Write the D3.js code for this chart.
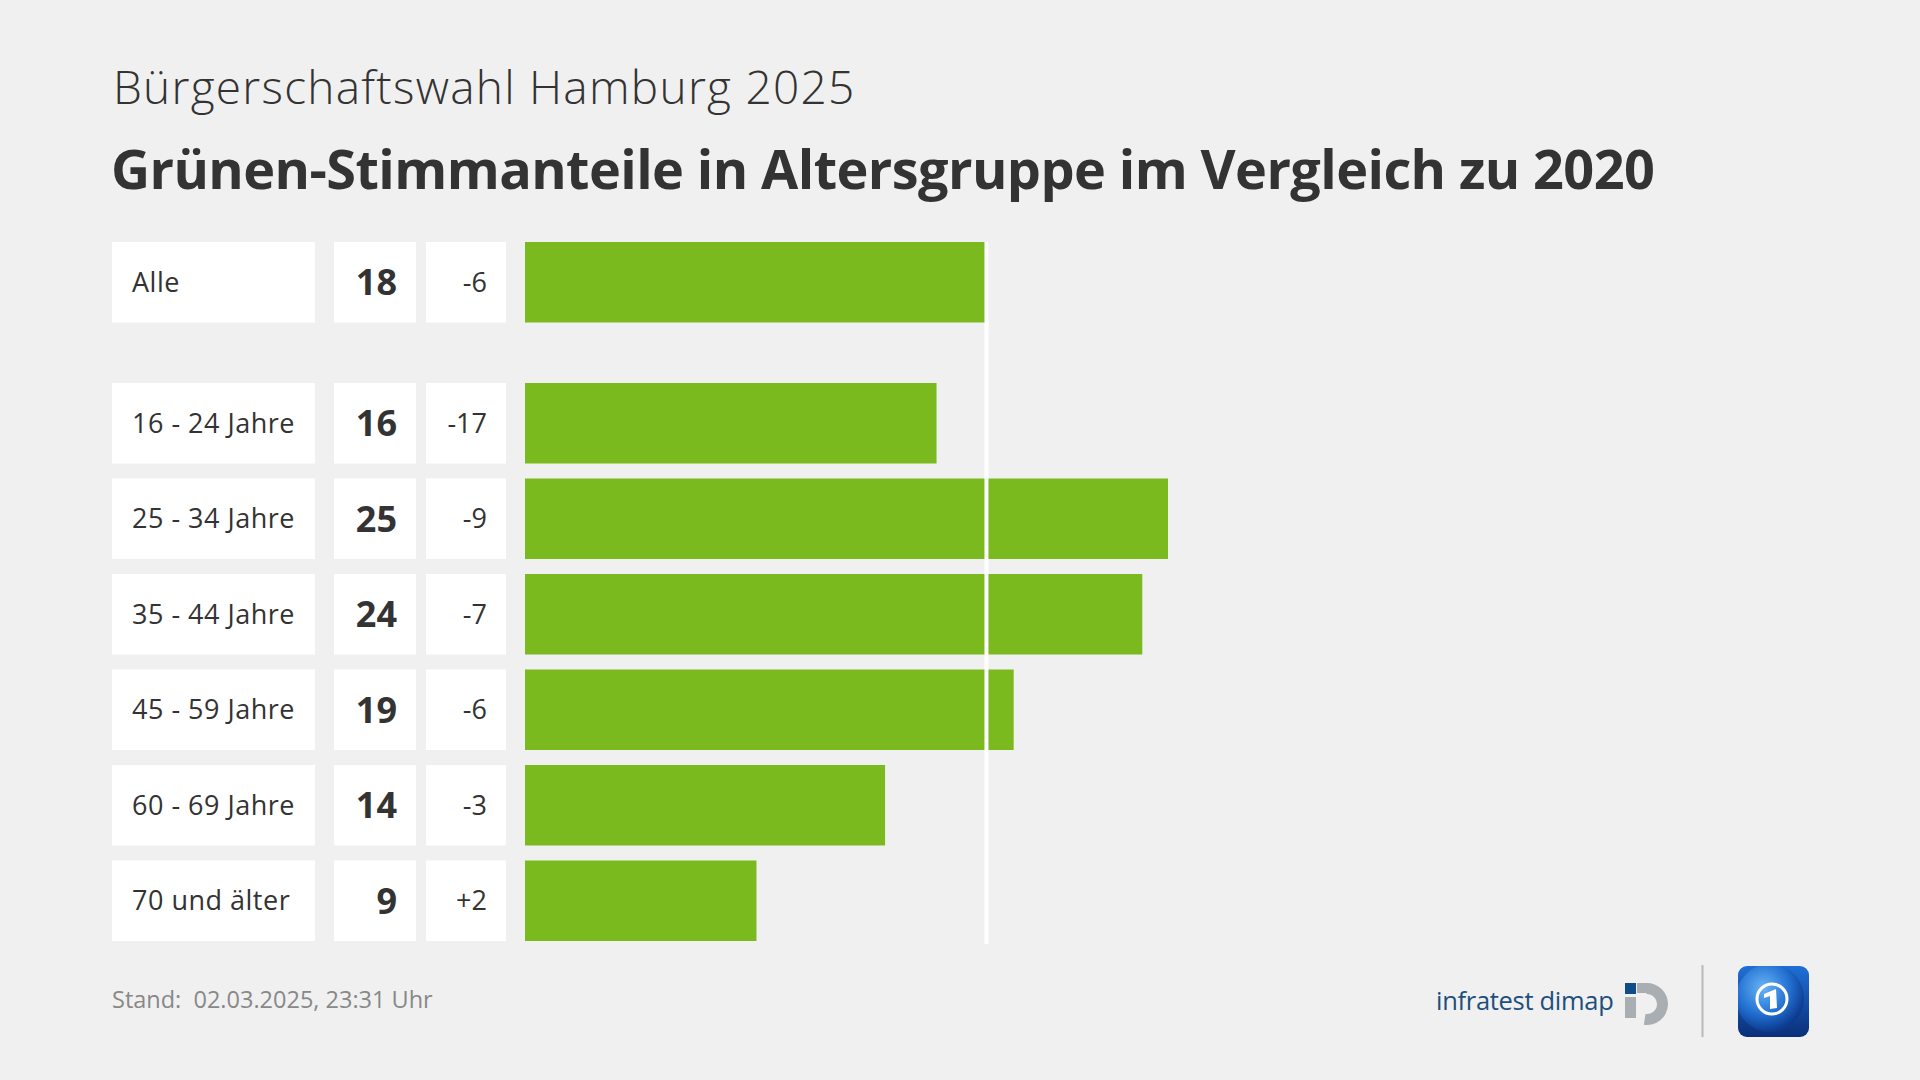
<!DOCTYPE html>
<html>
<head>
<meta charset="utf-8">
<script src="https://cdn.jsdelivr.net/npm/d3@7"></script>
<style>
html,body{margin:0;padding:0;background:#f0f0f0;}
svg{display:block;}
text{font-family:"Open Sans","Noto Sans",sans-serif;white-space:pre;}
</style>
</head>
<body>
<svg id="chart" width="1920" height="1080"></svg>
<script>
// ---- data ----
const supertitle = "Bürgerschaftswahl Hamburg 2025";
const title = "Grünen-Stimmanteile in Altersgruppe im Vergleich zu 2020";
const totalLabel = "Alle";
const totalValue = 18;
const totalDiff = "-6";
const categories = ["16 - 24 Jahre", "25 - 34 Jahre", "35 - 44 Jahre", "45 - 59 Jahre", "60 - 69 Jahre", "70 und älter"];
const values = [16, 25, 24, 19, 14, 9];
const diffs = ["-17", "-9", "-7", "-6", "-3", "+2"];
const footer = "Stand:  02.03.2025, 23:31 Uhr";

const svg = d3.select("#chart");
const W = 1920, H = 1080;
svg.append("rect").attr("width", W).attr("height", H).attr("fill", "#f0f0f0");

const green = "#7aba1e";
const dark = "#333333";

// titles
svg.append("text").attr("x", 113).attr("y", 104)
  .attr("font-size", 46).attr("font-weight", 300).attr("letter-spacing", 1.25).attr("fill", dark)
  .text(supertitle);
svg.append("text").attr("x", 111).attr("y", 189)
  .attr("font-size", 54).attr("font-weight", 700).attr("letter-spacing", -0.58).attr("fill", dark)
  .text(title);

// scales
const x = d3.scaleLinear().domain([0, 25]).range([525, 1168]);
const y = d3.scaleBand().domain(categories).range([383, 941]).paddingInner(0.157).paddingOuter(0);
const bh = y.bandwidth();
const totalY = 242;

const rows = [{label: totalLabel, v: totalValue, d: totalDiff, top: totalY}]
  .concat(categories.map((c, i) => ({label: c, v: values[i], d: diffs[i], top: y(c)})));

const g = svg.append("g");
const row = g.selectAll("g.row").data(rows).join("g").attr("class", "row")
  .attr("transform", d => `translate(0,${d.top})`);

row.append("rect").attr("x", 112).attr("width", 203).attr("height", bh).attr("fill", "#fff");
row.append("rect").attr("x", 334).attr("width", 82).attr("height", bh).attr("fill", "#fff");
row.append("rect").attr("x", 426).attr("width", 80).attr("height", bh).attr("fill", "#fff");
row.append("rect").attr("x", x(0)).attr("width", d => x(d.v) - x(0)).attr("height", bh).attr("fill", green);

row.append("text").attr("x", 132).attr("y", bh / 2).attr("dy", "0.35em")
  .attr("font-size", 27).attr("letter-spacing", 0.5).attr("fill", dark).text(d => d.label);
row.append("text").attr("x", 397).attr("y", bh / 2).attr("dy", "0.36em")
  .attr("text-anchor", "end").attr("font-size", 36).attr("font-weight", 700).attr("fill", dark)
  .text(d => d.v);
row.append("text").attr("x", 487).attr("y", bh / 2).attr("dy", "0.35em")
  .attr("text-anchor", "end").attr("font-size", 27).attr("fill", dark).text(d => d.d);

// reference line at total value
svg.append("line").attr("x1", x(totalValue) - 1.5).attr("x2", x(totalValue) - 1.5)
  .attr("y1", totalY).attr("y2", 944).attr("stroke", "#ffffff").attr("stroke-width", 4);

// footer
svg.append("text").attr("x", 112).attr("y", 1008).attr("font-size", 23.5).attr("fill", "#888888")
  .text(footer);

// infratest dimap logo
svg.append("text").attr("x", 1436).attr("y", 1010).attr("font-size", 25.5).attr("fill", "#1d4f7c")
  .attr("letter-spacing", -0.3).text("infratest dimap");
svg.append("rect").attr("x", 1625).attr("y", 983).attr("width", 11).attr("height", 11).attr("fill", "#0f4c8a");
svg.append("rect").attr("x", 1625).attr("y", 997).attr("width", 11).attr("height", 21).attr("fill", "#a9aeb2");
const arc = d3.arc().innerRadius(10).outerRadius(21).startAngle(-0.05).endAngle(Math.PI + 0.15);
svg.append("path").attr("d", arc()).attr("transform", "translate(1647,1004)").attr("fill", "#a9aeb2");
svg.append("rect").attr("x", 1637).attr("y", 983).attr("width", 10).attr("height", 10).attr("fill", "#a9aeb2");

// separator
svg.append("line").attr("x1", 1702.5).attr("x2", 1702.5).attr("y1", 965).attr("y2", 1037)
  .attr("stroke", "#b9b9b9").attr("stroke-width", 2);

// tagesschau logo
const defs = svg.append("defs");
const lg = defs.append("linearGradient").attr("id", "tsg").attr("x1", 0).attr("y1", 0).attr("x2", 0).attr("y2", 1);
lg.append("stop").attr("offset", 0).attr("stop-color", "#1f6fd6");
lg.append("stop").attr("offset", 1).attr("stop-color", "#0a2f78");
const rg = defs.append("radialGradient").attr("id", "tsr").attr("cx", 0.4).attr("cy", 0.35).attr("r", 0.65);
rg.append("stop").attr("offset", 0).attr("stop-color", "#6ab4f5");
rg.append("stop").attr("offset", 0.6).attr("stop-color", "#2270d2");
rg.append("stop").attr("offset", 1).attr("stop-color", "#0c3a8e");
const clip = defs.append("clipPath").attr("id", "tsclip");
clip.append("rect").attr("x", 1738).attr("y", 966).attr("width", 71).attr("height", 71).attr("rx", 9);
svg.append("rect").attr("x", 1738).attr("y", 966).attr("width", 71).attr("height", 71).attr("rx", 9).attr("fill", "url(#tsg)");
svg.append("circle").attr("cx", 1770).attr("cy", 998).attr("r", 34).attr("fill", "url(#tsr)").attr("clip-path", "url(#tsclip)");
svg.append("circle").attr("cx", 1772).attr("cy", 999).attr("r", 15).attr("fill", "none").attr("stroke", "#fff").attr("stroke-width", 3);
svg.append("path").attr("d", "M1764,994 L1776,989 L1777,1008 L1770,1009 L1770,996 L1764,998 Z").attr("fill", "#fff");
</script>
</body>
</html>
